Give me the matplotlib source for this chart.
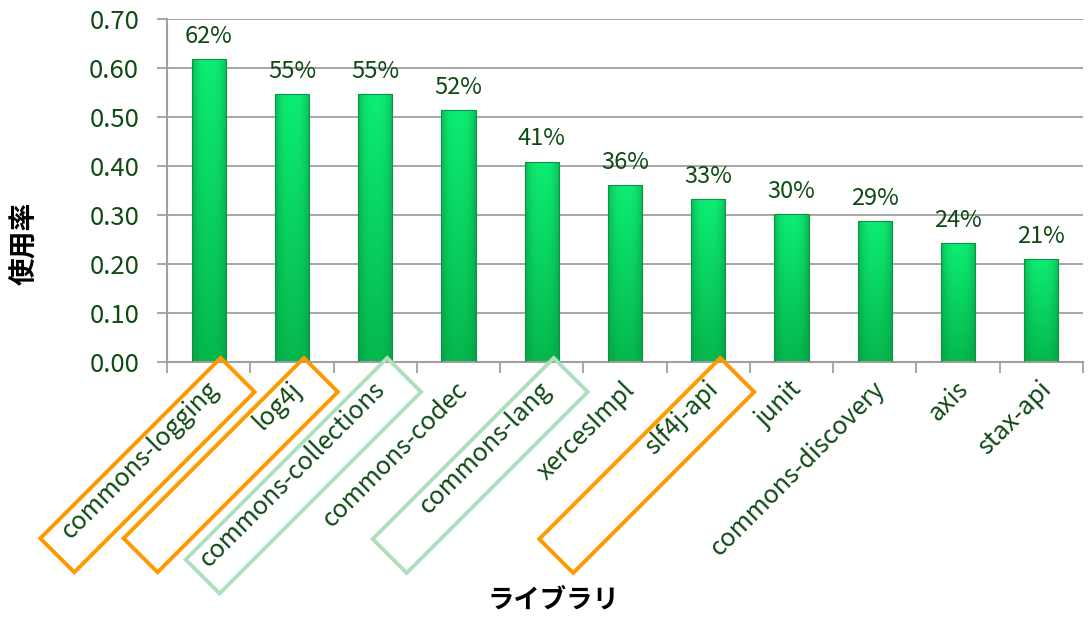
import numpy as np
import matplotlib
matplotlib.use("Agg")
import matplotlib.pyplot as plt
import matplotlib.transforms as mtransforms
from matplotlib.patches import Rectangle

plt.rcParams['font.family'] = ['Noto Sans CJK JP', 'DejaVu Sans']

libraries = ["commons-logging", "log4j", "commons-collections", "commons-codec",
             "commons-lang", "xercesImpl", "slf4j-api", "junit",
             "commons-discovery", "axis", "stax-api"]
usage = [0.619, 0.547, 0.547, 0.515, 0.409, 0.362, 0.332, 0.302, 0.288, 0.242, 0.210]
value_labels = ["62%", "55%", "55%", "52%", "41%", "36%", "33%", "30%", "29%", "24%", "21%"]
y_ticks = [0.0, 0.1, 0.2, 0.3, 0.4, 0.5, 0.6, 0.7]

# highlighted label boxes: (category index, color, box length px)
highlights = [(0, "#FF9900", 255), (1, "#FF9900", 255), (2, "#AEE0BE", 285),
              (4, "#AEE0BE", 256), (6, "#FF9900", 256)]

TXT = "#0E4A14"
GRID = "#A0A0A0"

fig = plt.figure(figsize=(10.88, 6.17), dpi=100)
ax = fig.add_axes([167/1088, 1-362/617, (1083-167)/1088, (362-19)/617])

x = np.arange(len(libraries))
bw = 0.41
bars = ax.bar(x, usage, width=bw, color="none", edgecolor="#0B9445", linewidth=0.8, zorder=3)

# gradient fill for bars
h = np.linspace(0, 1, 64)
prof = 1 - 0.55 * (np.abs(h - 0.5) * 2) ** 3
top = np.array([0.05, 0.93, 0.45])
bot = np.array([0.02, 0.72, 0.30])
edge = np.array([0.03, 0.55, 0.24])
v = np.linspace(0, 1, 64)[:, None, None]
center = bot * (1 - v) + top * v
img = edge + (center - edge) * prof[None, :, None]
img = np.clip(img, 0, 1)
for b in bars:
    x0, w, hgt = b.get_x(), b.get_width(), b.get_height()
    im = ax.imshow(img, extent=[x0, x0 + w, 0, hgt], origin="lower",
                   aspect="auto", zorder=2.5, interpolation="bilinear")
    im.set_clip_path(b)

ax.set_xlim(-0.5, len(libraries) - 0.5)
ax.set_ylim(0, 0.70)
ax.set_yticks(y_ticks)
ax.set_yticklabels([f"{t:.2f}" for t in y_ticks], fontsize=18.5, color=TXT)
ax.yaxis.grid(True, color=GRID, linewidth=1.3, zorder=0)
ax.set_axisbelow(True)
ax.tick_params(axis="y", length=7, color=GRID, width=1.3, pad=13)

for s in ["top", "right"]:
    ax.spines[s].set_visible(False)
for s in ["left", "bottom"]:
    ax.spines[s].set_color(GRID)
    ax.spines[s].set_linewidth(1.5)

# category ticks between bars
ax.set_xticks(np.arange(len(libraries) + 1) - 0.5, minor=True)
ax.tick_params(axis="x", which="minor", length=8, color=GRID, width=1.3)
ax.set_xticks(x)
ax.set_xticklabels(libraries, rotation=45, ha="right", va="center",
                   rotation_mode="anchor", fontsize=18, color=TXT)
ax.tick_params(axis="x", which="major", length=0, pad=17)
for lbl in ax.get_xticklabels():
    lbl.set_transform(lbl.get_transform() + mtransforms.ScaledTranslation(6/100, 0, fig.dpi_scale_trans))

for xi, val, lab in zip(x, usage, value_labels):
    ax.annotate(lab, (xi, val), xytext=(0, 8), textcoords="offset points",
                ha="center", va="bottom", fontsize=17, color=TXT)

# rotated highlight boxes
W = 48
for idx, col, L in highlights:
    tr = (mtransforms.Affine2D().rotate_deg(45).translate(12, 4)
          + mtransforms.ScaledTranslation(idx, 0, ax.transData))
    r = Rectangle((-L, -W), L, W, fill=False, edgecolor=col, linewidth=2.8,
                  transform=tr, clip_on=False, zorder=5)
    ax.add_patch(r)

fig.text(25/1088, 1-243/617, "使用率", fontsize=20, fontweight="bold", rotation=90,
         ha="center", va="center", color="black")
fig.text(553/1088, 1-600/617, "ライブラリ", fontsize=19, fontweight="bold",
         ha="center", va="center", color="black")

fig.savefig("out.png", dpi=100)
